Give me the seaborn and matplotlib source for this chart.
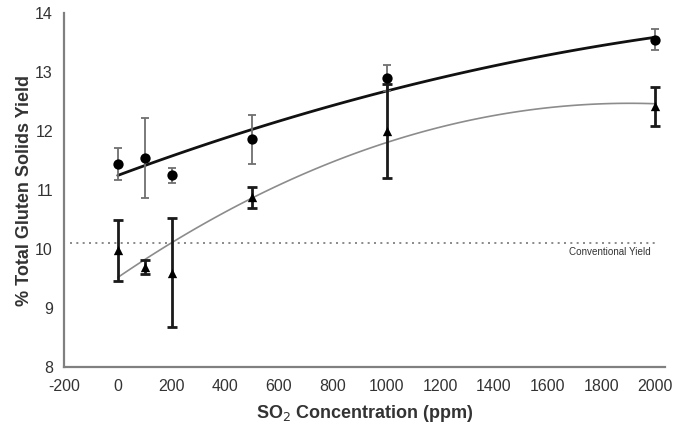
import numpy as np
import pandas as pd
import matplotlib
matplotlib.use("Agg")
import matplotlib.pyplot as plt
import seaborn as sns

# SO2 concentration (ppm)
so2_ppm = [0, 100, 200, 500, 1000, 2000]

# Circle series: mean yield and error
circle_yield = [11.44, 11.54, 11.25, 11.86, 12.90, 13.55]
circle_err = [0.27, 0.68, 0.13, 0.42, 0.22, 0.18]

# Triangle series: mean yield and error
triangle_yield = [9.98, 9.70, 9.60, 10.88, 12.00, 12.42]
triangle_err = [0.52, 0.12, 0.92, 0.18, 0.80, 0.33]

conventional_yield = 10.1
x_ticks = list(range(-200, 2001, 200))
y_ticks = [8, 9, 10, 11, 12, 13, 14]

df_c = pd.DataFrame({"ppm": so2_ppm, "yield": circle_yield, "err": circle_err})
df_t = pd.DataFrame({"ppm": so2_ppm, "yield": triangle_yield, "err": triangle_err})

sns.set_theme(style="white")
plt.rcParams["font.family"] = ["Liberation Sans", "DejaVu Sans"]
plt.rcParams["axes.unicode_minus"] = False

fig = plt.figure(figsize=(6.74, 4.25), dpi=100)
ax = fig.add_axes([0.095, 0.1365, 0.892, 0.8325])

# conventional yield reference line
ax.hlines(conventional_yield, -178, 2010, colors="#777777", linestyles=(0, (1.2, 2.6)), lw=1.2)
ax.text(1982, conventional_yield - 0.15, "Conventional Yield", ha="right", va="center",
        fontsize=7.1, color="#333333")

# second-order polynomial trendlines
sns.regplot(data=df_c, x="ppm", y="yield", order=2, ci=None, scatter=False,
            line_kws={"color": "#111111", "lw": 2.0}, ax=ax)
sns.regplot(data=df_t, x="ppm", y="yield", order=2, ci=None, scatter=False,
            line_kws={"color": "#8c8c8c", "lw": 1.2}, ax=ax)

# error bars
ax.errorbar(df_c["ppm"], df_c["yield"], yerr=df_c["err"], fmt="none",
            ecolor="#707070", elinewidth=1.3, capsize=3, capthick=1.3, zorder=3)
ax.errorbar(df_t["ppm"], df_t["yield"], yerr=df_t["err"], fmt="none",
            ecolor="#1a1a1a", elinewidth=2.0, capsize=3.5, capthick=2.0, zorder=3)

# markers
sns.scatterplot(data=df_c, x="ppm", y="yield", marker="o", s=55, color="black",
                edgecolor="black", linewidth=0, ax=ax, zorder=4)
sns.scatterplot(data=df_t, x="ppm", y="yield", marker="^", s=45, color="black",
                edgecolor="black", linewidth=0, ax=ax, zorder=4)

ax.set_xlim(-200, 2037)
ax.set_ylim(8, 14)
ax.set_xticks(x_ticks)
ax.set_yticks(y_ticks)
ax.tick_params(axis="both", length=0, labelsize=11.5, colors="#333333")
ax.tick_params(axis="x", pad=9)
ax.tick_params(axis="y", pad=8)

for side in ["top", "right"]:
    ax.spines[side].set_visible(False)
for side in ["left", "bottom"]:
    ax.spines[side].set_color("#808080")
    ax.spines[side].set_linewidth(1.6)

ax.set_xlabel("SO$_2$ Concentration (ppm)", fontsize=13, fontweight="bold",
              color="#333333", labelpad=6)
ax.set_ylabel("% Total Gluten Solids Yield", fontsize=13, fontweight="bold",
              color="#333333", labelpad=1.5)

fig.savefig("out.png", dpi=100)
